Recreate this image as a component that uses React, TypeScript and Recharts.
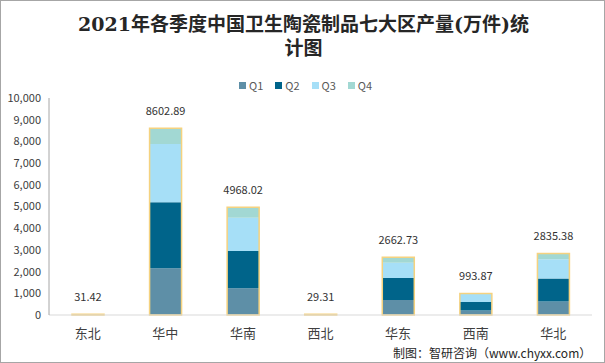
import { Bar, BarChart, LabelList, XAxis, YAxis } from "recharts";

// 2021 quarterly output of sanitary ceramics by region (10k pieces)
const regions = ["东北", "华中", "华南", "西北", "华东", "西南", "华北"];
const q1 = [8, 2152, 1230, 7, 691, 210, 620];
const q2 = [8, 3042, 1719, 7, 1014, 390, 1060];
const q3 = [8, 2686, 1535, 8, 705, 380, 890];
const q4 = [7.42, 722.89, 484.02, 7.31, 252.73, 13.87, 265.38];
const totals = [31.42, 8602.89, 4968.02, 29.31, 2662.73, 993.87, 2835.38];
const yTicks = [0, 1000, 2000, 3000, 4000, 5000, 6000, 7000, 8000, 9000, 10000];

const seriesNames = ["Q1", "Q2", "Q3", "Q4"];
const colors = ["#5e8fa7", "#00648a", "#a6dff7", "#a2d8d3"];

const data = regions.map((name, i) => ({
  name,
  Q1: q1[i],
  Q2: q2[i],
  Q3: q3[i],
  Q4: q4[i],
  total: totals[i],
}));

const font = "'Microsoft YaHei', 'Noto Sans CJK SC', 'Liberation Sans', sans-serif";

export default function App() {
  return (
    <div
      style={{
        position: "absolute",
        left: 0,
        top: 0,
        width: 605,
        height: 363,
        border: "1px solid #a6a6a6",
        boxSizing: "border-box",
        background: "#fff",
        fontFamily: font,
      }}
    >
      <div
        style={{
          position: "absolute",
          top: 11,
          left: 0,
          width: 605,
          textAlign: "center",
          fontFamily: "'DejaVu Serif', 'Noto Sans CJK SC', serif",
          fontWeight: "bold",
          fontSize: 19,
          lineHeight: "24px",
          color: "#262626",
        }}
      >
        2021年各季度中国卫生陶瓷制品七大区产量(万件)统
        <br />
        计图
      </div>
      <div
        style={{
          position: "absolute",
          top: 76,
          left: 238,
          display: "flex",
          gap: 12,
          fontSize: 11,
          color: "#595959",
        }}
      >
        {seriesNames.map((s, i) => (
          <span key={s} style={{ display: "flex", alignItems: "center" }}>
            <span style={{ width: 7, height: 7, background: colors[i], marginRight: 3 }} />
            {s}
          </span>
        ))}
      </div>
      <div style={{ position: "absolute", left: -1, top: -1 }}>
        <BarChart
          width={605}
          height={363}
          data={data}
          margin={{ top: 98, right: 13, bottom: 18, left: 4 }}
        >
          <XAxis
            dataKey="name"
            axisLine={{ stroke: "#d9d9d9" }}
            tickLine={false}
            height={30}
            tick={{ fontSize: 13, fill: "#404040", fontFamily: font }}
            tickMargin={8}
            interval={0}
          />
          <XAxis dataKey="name" xAxisId="o" hide />
          <YAxis
            domain={[0, 10000]}
            ticks={yTicks}
            width={45}
            axisLine={{ stroke: "#a6a6a6" }}
            tickLine={false}
            tick={{ fontSize: 11, fill: "#404040", fontFamily: font }}
            tickFormatter={(v: number) => v.toLocaleString("en-US")}
            interval={0}
          />
          {seriesNames.map((s, i) => (
            <Bar
              key={s}
              dataKey={s}
              stackId="a"
              fill={colors[i]}
              barSize={32}
              isAnimationActive={false}
            />
          ))}
          <Bar
            dataKey="total"
            xAxisId="o"
            fill="none"
            stroke="#f5d27f"
            strokeWidth={1.5}
            barSize={32}
            isAnimationActive={false}
          >
            <LabelList
              dataKey="total"
              position="top"
              offset={13}
              style={{ fontSize: 11, fill: "#333", fontFamily: font }}
            />
          </Bar>
        </BarChart>
      </div>
      <div
        style={{
          position: "absolute",
          top: 343,
          left: 392,
          fontSize: 12,
          color: "#262626",
          whiteSpace: "nowrap",
        }}
      >
        制图：智研咨询（www.chyxx.com）
      </div>
    </div>
  );
}
